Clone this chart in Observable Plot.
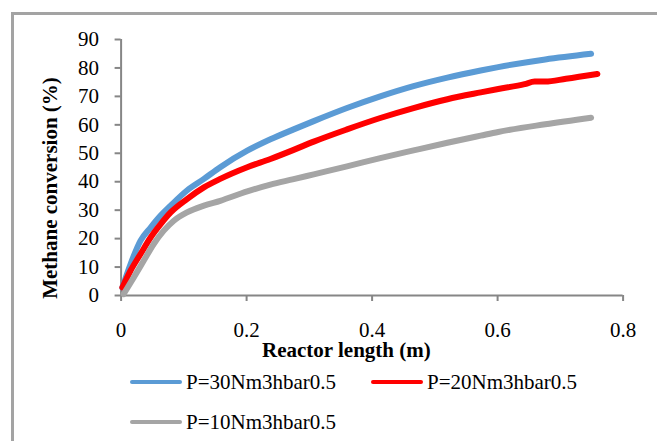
<!DOCTYPE html>
<html><head><meta charset="utf-8">
<script src="https://cdn.jsdelivr.net/npm/d3@7"></script>
<script src="https://cdn.jsdelivr.net/npm/@observablehq/plot@0.6"></script>
<style>
body{margin:0;background:#fff;font-family:"Liberation Serif","Times New Roman",serif;}
#wrap{position:relative;width:657px;height:441px;overflow:hidden;background:#fff}
#border{position:absolute;left:11px;top:12px;width:700px;height:500px;border:3px solid #a3a3a3;box-sizing:border-box}
#chart{position:absolute;left:0;top:0}
#chart svg, #chart text{font-family:"Liberation Serif","Times New Roman",serif !important}
.leg{position:absolute;height:24px;display:flex;align-items:center;font-family:"Liberation Serif","Times New Roman",serif;font-size:21px;color:#000;white-space:nowrap}
.leg span.sw{display:inline-block;width:52px;height:4px;border-radius:2px;margin-right:4px}
</style></head>
<body>
<div id="wrap"><div id="border"></div><div id="chart"></div><div id="legend"></div></div>
<script>
const seriesNames = ["P=30Nm3hbar0.5", "P=20Nm3hbar0.5", "P=10Nm3hbar0.5"];
const seriesColors = ["#5b9bd5", "#ff0000", "#a5a5a5"];

const xP30 = [0.002, 0.015, 0.031, 0.047, 0.063, 0.079, 0.105, 0.132, 0.158, 0.201, 0.238, 0.275, 0.307, 0.36, 0.413, 0.466, 0.52, 0.573, 0.601, 0.676, 0.749];
const yP30 = [2.8, 11.0, 19.3, 23.9, 28.1, 31.6, 36.9, 41.0, 45.1, 50.9, 54.9, 58.4, 61.3, 65.9, 70.0, 73.6, 76.6, 79.1, 80.3, 83.0, 85.0];

const xP20 = [0.002, 0.015, 0.031, 0.047, 0.063, 0.079, 0.105, 0.132, 0.158, 0.201, 0.238, 0.275, 0.307, 0.36, 0.413, 0.466, 0.52, 0.573, 0.601, 0.643, 0.659, 0.676, 0.709, 0.759];
const yP20 = [2.8, 8.7, 14.6, 20.4, 25.1, 29.2, 33.9, 38.0, 41.0, 45.1, 48.0, 51.2, 54.1, 58.4, 62.4, 65.9, 69.0, 71.4, 72.6, 74.3, 75.2, 75.2, 76.2, 77.9];

const xP10 = [0.004, 0.02, 0.036, 0.052, 0.068, 0.084, 0.105, 0.132, 0.158, 0.201, 0.238, 0.275, 0.307, 0.36, 0.413, 0.466, 0.52, 0.573, 0.601, 0.676, 0.749];
const yP10 = [0.5, 6.3, 12.2, 18.1, 22.8, 26.3, 29.2, 31.6, 33.3, 36.6, 39.0, 40.9, 42.6, 45.4, 48.3, 51.0, 53.7, 56.2, 57.5, 60.2, 62.5];

const xTicks = [0, 0.2, 0.4, 0.6, 0.8];
const xTickLabels = ["0", "0.2", "0.4", "0.6", "0.8"];
const yTicks = [0, 10, 20, 30, 40, 50, 60, 70, 80, 90];
const xTitle = "Reactor length (m)";
const yTitle = "Methane conversion (%)";

const xs = [xP30, xP20, xP10], ys = [yP30, yP20, yP10];
const rows = seriesNames.flatMap((s, k) => xs[k].map((x, i) => ({series: s, x, y: ys[k][i]})));

const axisColor = "#868686";
const serif = '"Liberation Serif", "Times New Roman", serif';
const chart = Plot.plot({
  width: 657, height: 365,
  marginTop: 39, marginBottom: 70, marginLeft: 120.6, marginRight: 34.4,
  style: {fontFamily: serif, fontSize: "21px", background: "transparent", color: "#000"},
  x: {domain: [0, 0.8]},
  y: {domain: [0, 90]},
  color: {domain: seriesNames, range: seriesColors},
  marks: [
    Plot.axisY({ticks: yTicks, tickSize: 6, tickPadding: 16, stroke: axisColor, strokeWidth: 2, fill: "#000", label: null, fontSize: 21, fontFamily: serif}),
    Plot.axisX({ticks: xTicks, tickSize: 6, tickPadding: 21, tickFormat: (d, i) => xTickLabels[i], stroke: axisColor, strokeWidth: 2, fill: "#000", label: null, fontSize: 21, fontFamily: serif}),
    Plot.ruleY([0], {stroke: axisColor, strokeWidth: 2}),
    Plot.ruleX([0], {stroke: axisColor, strokeWidth: 2}),
    Plot.line(rows, {x: "x", y: "y", z: "series", stroke: "series", strokeWidth: 6, strokeLinecap: "round", strokeLinejoin: "round", curve: "monotone-x"}),
    Plot.text([xTitle], {frameAnchor: "bottom", lineAnchor: "middle", textAnchor: "middle", dx: -25.7, dy: 55, fontWeight: "bold", fontSize: 21, fontFamily: serif, fill: "#000"}),
    Plot.text([yTitle], {frameAnchor: "left", lineAnchor: "middle", textAnchor: "middle", rotate: -90, dx: -70.8, dy: 20.5, fontWeight: "bold", fontSize: 21, fontFamily: serif, fill: "#000"})
  ]
});
document.getElementById("chart").appendChild(chart);

const legendPos = [[130, 370], [371, 370], [130, 410]];
const leg = document.getElementById("legend");
seriesNames.forEach((s, k) => {
  const d = document.createElement("div");
  d.className = "leg";
  d.style.left = legendPos[k][0] + "px";
  d.style.top = legendPos[k][1] + "px";
  const sw = document.createElement("span");
  sw.className = "sw"; sw.style.background = seriesColors[k];
  d.appendChild(sw);
  d.appendChild(document.createTextNode(s));
  leg.appendChild(d);
});
</script>
</body></html>
